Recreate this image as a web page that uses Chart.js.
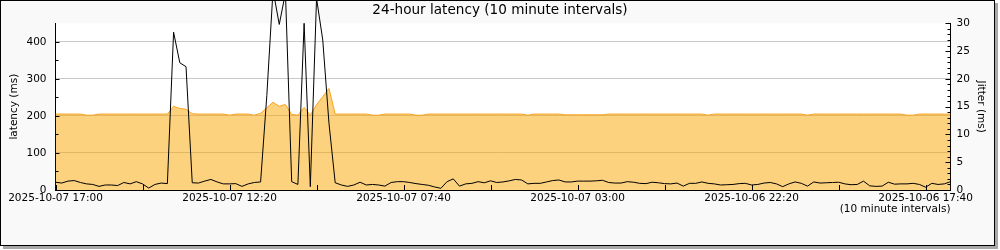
<!DOCTYPE html>
<html>
<head>
<meta charset="utf-8">
<script src="https://cdn.jsdelivr.net/npm/chart.js@4"></script>
<style>
  html, body { margin: 0; padding: 0; background: #ffffff; }
  #frame { position: absolute; left: 0; top: 0; width: 993px; height: 244px;
           border: 1px solid #000; background: #f9f9f9; box-shadow: 3px 3px 0 #a8a8a8; }
  #c { position: absolute; left: 0; top: 0; }
</style>
</head>
<body>
<div id="frame"></div>
<canvas id="c" width="1000" height="250"></canvas>
<script>
// ---- data (10 minute intervals, newest at left) ----
const titleText = '24-hour latency (10 minute intervals)';
const xTickLabels = ['2025-10-07 17:00', '2025-10-07 12:20', '2025-10-07 07:40',
                     '2025-10-07 03:00', '2025-10-06 22:20', '2025-10-06 17:40'];
const intervalsPerLabel = 28;
const intervalsPerTick = 14;
const totalIntervals = 144;

// latency in ms (left axis)
const latency = [
  205, 205, 205, 205, 205, 202, 202, 205, 205, 205,
  205, 205, 205, 205, 205, 205, 205, 205, 205, 226,
  220, 218, 206, 205, 205, 205, 205, 205, 202, 205,
  205, 205, 202, 207, 222, 237, 226, 231, 204, 202,
  223, 202, 230, 252, 274, 205, 205, 205, 205, 205,
  205, 202, 202, 205, 205, 205, 205, 205, 202, 202,
  205, 205, 205, 205, 205, 205, 205, 205, 205, 205,
  205, 205, 205, 205, 205, 205, 202, 205, 205, 205,
  205, 205, 203, 203, 203, 203, 203, 203, 203, 205,
  205, 205, 205, 205, 205, 205, 205, 205, 205, 205,
  205, 205, 205, 205, 205, 202, 205, 205, 205, 205,
  205, 205, 205, 205, 205, 205, 205, 205, 205, 205,
  205, 202, 205, 205, 205, 205, 205, 205, 205, 205,
  205, 205, 205, 205, 205, 205, 205, 202, 202, 205,
  205, 205, 205, 205, 205
];

// jitter in ms (right axis)
const jitter = [
  1.4, 1.25, 1.6, 1.7, 1.35, 1.1, 1.0, 0.65, 0.9, 0.9,
  0.8, 1.35, 1.1, 1.5, 1.1, 0.35, 1.0, 1.25, 1.15, 28.4,
  22.9, 22.2, 1.3, 1.25, 1.6, 1.9, 1.45, 1.1, 1.1, 1.15,
  0.65, 1.1, 1.35, 1.45, 17, 36, 29.8, 35.5, 1.5, 1.0,
  30, 0.6, 34.5, 27, 12, 1.3, 0.9, 0.65, 0.9, 1.4,
  0.9, 1.0, 0.9, 0.7, 1.35, 1.5, 1.5, 1.35, 1.15, 1.0,
  0.85, 0.55, 0.3, 1.5, 2.0, 0.7, 1.1, 1.2, 1.5, 1.3,
  1.65, 1.35, 1.45, 1.65, 1.9, 1.8, 1.1, 1.2, 1.2, 1.45,
  1.7, 1.8, 1.45, 1.45, 1.6, 1.6, 1.6, 1.65, 1.75, 1.35,
  1.25, 1.25, 1.5, 1.4, 1.2, 1.15, 1.4, 1.3, 1.15, 1.1,
  1.25, 0.7, 1.2, 1.2, 1.45, 1.2, 1.1, 0.9, 0.95, 1.0,
  1.15, 1.2, 0.9, 1.0, 1.25, 1.35, 1.1, 0.6, 1.1, 1.45,
  1.2, 0.7, 1.45, 1.25, 1.3, 1.35, 1.4, 1.1, 0.95, 1.0,
  1.6, 0.75, 0.65, 0.7, 1.4, 1.05, 1.1, 1.1, 1.2, 1.0,
  0.5, 1.2, 1.0, 1.1, 1.5
];

const latencyMax = 450;
const jitterMax = 30;

// ---- chart ----
const FONT = 'DejaVu Sans';
const tickFont = { family: FONT, size: 10.5 };

const plotBackground = {
  id: 'plotBackground',
  beforeDraw(chart) {
    const { ctx, chartArea: a } = chart;
    ctx.save();
    ctx.fillStyle = '#ffffff';
    ctx.fillRect(a.left, a.top, a.right - a.left, a.bottom - a.top);
    ctx.restore();
  }
};

const innerTicks = {
  id: 'innerTicks',
  afterDatasetsDraw(chart) {
    const { ctx, chartArea: a, scales } = chart;
    ctx.save();
    ctx.strokeStyle = '#000';
    ctx.lineWidth = 1;
    ctx.beginPath();
    scales.x.ticks.forEach(t => {
      const px = Math.round(scales.x.getPixelForValue(t.value)) + 0.5;
      ctx.moveTo(px, a.bottom);
      ctx.lineTo(px, a.bottom - 5);
    });
    scales.y.ticks.forEach(t => {
      if (t.value >= scales.y.max) return;
      const py = Math.round(scales.y.getPixelForValue(t.value)) + 0.5;
      const len = t.value % 100 === 0 ? 4 : 3;
      ctx.moveTo(a.left, py);
      ctx.lineTo(a.left + len, py);
    });
    scales.y2.ticks.forEach(t => {
      const py = Math.round(scales.y2.getPixelForValue(t.value)) + 0.5;
      const len = t.value % 5 === 0 ? 5 : 3;
      ctx.moveTo(a.right, py);
      ctx.lineTo(a.right - len, py);
    });
    ctx.stroke();
    ctx.restore();
  }
};

new Chart(document.getElementById('c'), {
  type: 'line',
  data: {
    datasets: [
      {
        label: 'Jitter',
        data: jitter.map((v, i) => ({ x: i, y: v })),
        yAxisID: 'y2',
        borderColor: '#000000',
        borderWidth: 1,
        pointRadius: 0,
        tension: 0,
        fill: false,
        clip: false,
        order: 0
      },
      {
        label: 'Latency',
        data: latency.map((v, i) => ({ x: i, y: v })),
        yAxisID: 'y',
        borderColor: '#f7a41d',
        backgroundColor: 'rgba(251,166,0,0.5)',
        borderWidth: 1,
        pointRadius: 0,
        tension: 0,
        fill: 'origin',
        order: 1
      }
    ]
  },
  options: {
    responsive: false,
    devicePixelRatio: 1,
    animation: false,
    layout: { padding: 0 },
    plugins: {
      legend: { display: false },
      tooltip: { enabled: false },
      title: {
        display: true,
        text: titleText,
        color: '#000',
        font: { family: FONT, size: 13.6, weight: 'normal' },
        padding: { top: 2.7, bottom: 4.3 }
      }
    },
    scales: {
      x: {
        type: 'linear',
        position: 'bottom',
        min: 0,
        max: totalIntervals,
        afterBuildTicks: s => {
          const t = [];
          for (let v = 0; v < totalIntervals; v += intervalsPerTick) t.push({ value: v });
          s.ticks = t;
        },
        afterFit: s => { s.height = 60; },
        ticks: {
          autoSkip: false,
          maxRotation: 0,
          padding: 2,
          color: '#000',
          font: tickFont,
          callback: v => (v % intervalsPerLabel === 0 ? xTickLabels[v / intervalsPerLabel] : '')
        },
        grid: { drawOnChartArea: false, drawTicks: false },
        border: { color: '#000', width: 1 },
        title: {
          display: true,
          text: '(10 minute intervals)',
          align: 'end',
          color: '#000',
          font: tickFont,
          padding: { top: 0, bottom: 34.4 }
        }
      },
      y: {
        position: 'left',
        min: 0,
        max: latencyMax,
        afterFit: s => { s.width = 55.5; },
        ticks: {
          stepSize: 50,
          autoSkip: false,
          padding: 9,
          color: '#000',
          font: tickFont,
          callback: v => (v % 100 === 0 ? v : '')
        },
        grid: {
          drawTicks: false,
          color: ctx => (ctx.tick && ctx.tick.value % 100 === 0 && ctx.tick.value > 0) ? '#c8c8c8' : 'rgba(0,0,0,0)'
        },
        border: { color: '#000', width: 1 },
        title: {
          display: true,
          text: 'latency (ms)',
          color: '#000',
          font: tickFont,
          padding: { top: 7.7, bottom: 0 }
        }
      },
      y2: {
        position: 'right',
        min: 0,
        max: jitterMax,
        afterFit: s => { s.width = 49.5; },
        ticks: {
          stepSize: 1,
          autoSkip: false,
          padding: 6,
          color: '#000',
          font: tickFont,
          callback: v => (v % 5 === 0 ? v : '')
        },
        grid: { drawOnChartArea: false, drawTicks: false },
        border: { color: '#000', width: 1 },
        title: {
          display: true,
          text: 'Jitter (ms)',
          color: '#000',
          font: tickFont,
          padding: { top: 13, bottom: 0 }
        }
      }
    }
  },
  plugins: [plotBackground, innerTicks]
});
</script>
</body>
</html>
